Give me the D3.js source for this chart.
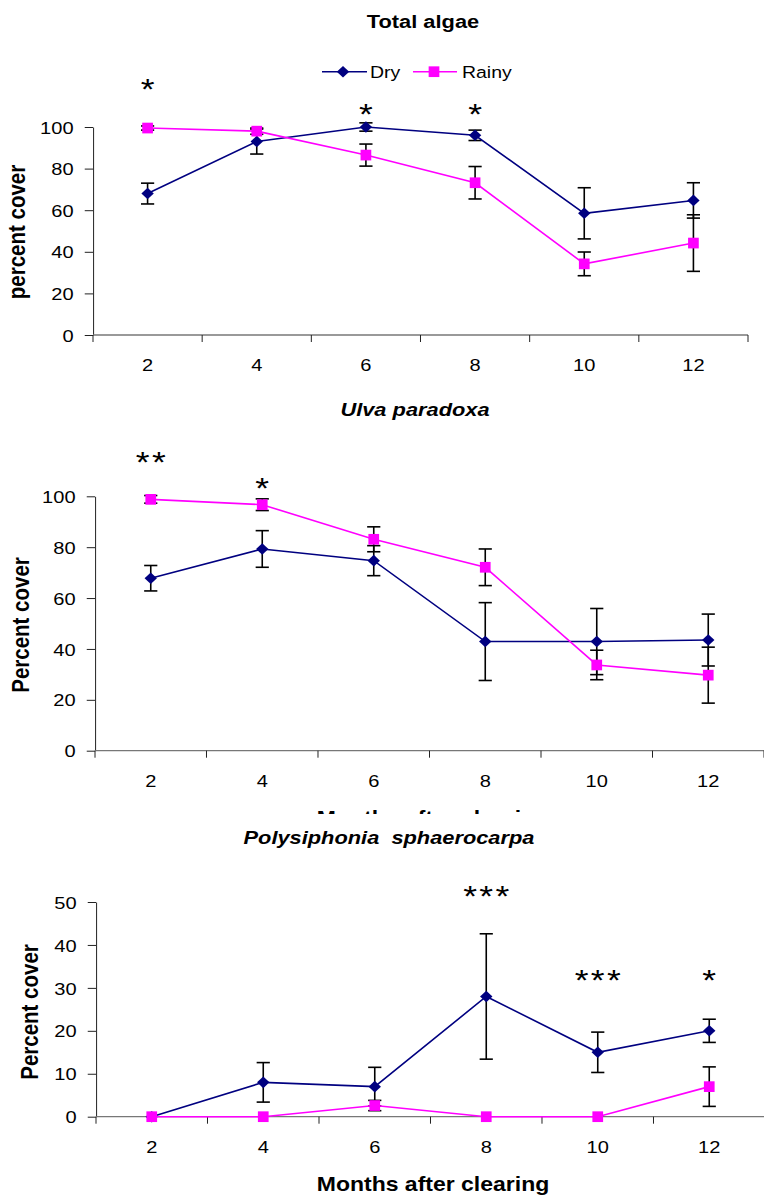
<!DOCTYPE html>
<html>
<head>
<meta charset="utf-8">
<script src="https://cdn.jsdelivr.net/npm/d3@7"></script>
<style>
  body { margin: 0; background: #fff; }
  svg { display: block; }
  text { font-family: "Liberation Sans", Arial, sans-serif; fill: #000; }
</style>
</head>
<body>
<svg id="chart"></svg>
<script>
const months = [2, 4, 6, 8, 10, 12];
const seriesNames = ["Dry", "Rainy"];

// Total algae
const totalDry = [68, 93, 100, 96, 58.5, 64.7];
const totalDryErr = [5, 6, 2, 2.5, 12.3, 8.5];
const totalRainy = [99.5, 98, 86.5, 73.2, 34.2, 44.2];
const totalRainyErr = [1, 1.5, 5.3, 7.8, 5.7, 13.6];
const totalSig = [
  { month: 2, label: "*", at: 121.5 },
  { month: 6, label: "*", at: 109.5 },
  { month: 8, label: "*", at: 109.5 }
];

// Ulva paradoxa
const ulvaDry = [67.8, 79.3, 74.7, 42.9, 42.9, 43.5];
const ulvaDryErr = [5, 7.2, 5.9, 15.3, 13, 10.2];
const ulvaRainy = [98.8, 96.7, 83.1, 72.1, 33.7, 29.7];
const ulvaRainyErr = [1.5, 2.3, 4.9, 7.2, 5.8, 11];
const ulvaSig = [
  { month: 2, label: "**", at: 116.2 },
  { month: 4, label: "*", at: 106.2 }
];

// Polysiphonia sphaerocarpa
const polyDry = [0, 8, 7, 28, 15, 20];
const polyDryErr = [0, 4.6, 4.5, 14.6, 4.7, 2.7];
const polyRainy = [0, 0, 2.6, 0, 0, 7];
const polyRainyErr = [0, 0, 1.2, 0, 0, 4.6];
const polySig = [
  { month: 8, label: "***", at: 53 },
  { month: 10, label: "***", at: 33.4 },
  { month: 12, label: "*", at: 33.4 }
];

const ticks100 = [0, 20, 40, 60, 80, 100];
const ticks50 = [0, 10, 20, 30, 40, 50];

const colors = { Dry: "#000080", Rainy: "#ff00ff" };

// the source picture is stretched sideways, so draw in a narrower viewBox
const S = 1.18;
const W = 764;
const H = 1198;

const svg = d3.select("#chart")
  .attr("width", W)
  .attr("height", H)
  .attr("viewBox", `0 0 ${W / S} ${H}`)
  .attr("preserveAspectRatio", "none");

function diamondPath(px, py) {
  const hw = 6.2 / S;
  const hh = 5.8;
  return `M${px},${py - hh}L${px + hw},${py}L${px},${py + hh}L${px - hw},${py}Z`;
}

function drawSquare(g, px, py, color) {
  const side = 10.7;
  g.append("rect")
    .attr("x", px - side / S / 2)
    .attr("y", py - side / 2)
    .attr("width", side / S)
    .attr("height", side)
    .attr("fill", color);
}

function drawPanel(p) {
  const g = svg.append("g");
  const x = d3.scaleBand().domain(months).range([p.left / S, p.right / S]);
  const y = d3.scaleLinear().domain([0, p.yMax]).range([p.zeroY, p.topY]);
  const cx = (m) => x(m) + x.bandwidth() / 2;

  // title
  g.append("text")
    .attr("x", p.titleX / S)
    .attr("y", p.titleY)
    .attr("text-anchor", "middle")
    .attr("font-size", 18.5)
    .attr("font-weight", "bold")
    .attr("font-style", p.italic ? "italic" : "normal")
    .style("white-space", "pre")
    .text(p.title);

  // y axis
  const yAxis = g.append("g")
    .attr("transform", `translate(${p.left / S},0)`)
    .call(d3.axisLeft(y).tickValues(p.yTicks).tickSize(7).tickSizeOuter(0).tickPadding(9.5).tickFormat(d3.format("d")));
  yAxis.attr("font-size", null).attr("font-family", null);
  yAxis.selectAll("text").attr("font-size", 17).attr("dy", "0.36em");
  yAxis.selectAll("line, path").attr("stroke", "#222").attr("stroke-width", 1).attr("vector-effect", "non-scaling-stroke");

  // x axis: boundary ticks, labels centred in each band
  const xg = g.append("g");
  xg.append("line")
    .attr("x1", p.left / S)
    .attr("x2", p.right / S)
    .attr("y1", p.zeroY)
    .attr("y2", p.zeroY)
    .attr("stroke", "#777")
    .attr("stroke-width", 1.3)
    .attr("vector-effect", "non-scaling-stroke");
  const bounds = months.map((m) => x(m)).concat([p.right / S]);
  xg.selectAll("line.tick")
    .data(bounds)
    .join("line")
    .attr("class", "tick")
    .attr("x1", (d) => d)
    .attr("x2", (d) => d)
    .attr("y1", p.zeroY)
    .attr("y2", p.zeroY + 7)
    .attr("stroke", "#222")
    .attr("stroke-width", 1)
    .attr("vector-effect", "non-scaling-stroke");
  xg.selectAll("text")
    .data(months)
    .join("text")
    .attr("x", (m) => cx(m))
    .attr("y", p.zeroY + 36)
    .attr("text-anchor", "middle")
    .attr("font-size", 17)
    .text((m) => m);

  // y label
  g.append("text")
    .attr("transform", `translate(${p.yLabelX / S},${p.yLabelY}) rotate(-90)`)
    .attr("text-anchor", "middle")
    .attr("font-size", 20.5)
    .attr("font-weight", "bold")
    .text(p.yLabel);

  // x label (the middle panel's label is half hidden under the next panel)
  if (p.xLabelY) {
    const xl = g.append("text")
      .attr("x", p.xLabelX / S)
      .attr("y", p.xLabelY)
      .attr("text-anchor", "middle")
      .attr("font-size", 19.5)
      .attr("font-weight", "bold")
      .text("Months after clearing");
    if (p.clipBottom) {
      const id = "clip-" + p.key;
      svg.append("clipPath").attr("id", id)
        .append("rect")
        .attr("x", 0).attr("y", p.clipTop)
        .attr("width", W / S).attr("height", p.clipBottom - p.clipTop);
      xl.attr("clip-path", `url(#${id})`);
    }
  }

  const series = [
    { name: "Dry", values: p.dry, err: p.dryErr },
    { name: "Rainy", values: p.rainy, err: p.rainyErr }
  ];

  // error bars
  const capHalf = 6.6 / S;
  series.forEach((s) => {
    s.values.forEach((v, i) => {
      const e = s.err[i];
      if (!e) return;
      const px = cx(months[i]);
      const lo = y(Math.max(0, v - e));
      const hi = y(v + e);
      const eb = g.append("g")
        .attr("stroke", "#000")
        .attr("stroke-width", 1.6);
      eb.append("line").attr("x1", px).attr("x2", px).attr("y1", lo).attr("y2", hi);
      eb.append("line").attr("x1", px - capHalf).attr("x2", px + capHalf).attr("y1", hi).attr("y2", hi);
      eb.append("line").attr("x1", px - capHalf).attr("x2", px + capHalf).attr("y1", lo).attr("y2", lo);
      eb.selectAll("line").attr("vector-effect", "non-scaling-stroke");
    });
  });

  // lines and markers
  const line = d3.line().x((d, i) => cx(months[i])).y((d) => y(d));
  series.forEach((s) => {
    g.append("path")
      .datum(s.values)
      .attr("d", line)
      .attr("fill", "none")
      .attr("stroke", colors[s.name])
      .attr("stroke-width", 1.6)
      .attr("vector-effect", "non-scaling-stroke");
    s.values.forEach((v, i) => {
      const px = cx(months[i]);
      if (s.name === "Dry") {
        g.append("path").attr("d", diamondPath(px, y(v))).attr("fill", colors.Dry);
      } else {
        drawSquare(g, px, y(v), colors.Rainy);
      }
    });
  });

  // significance asterisks
  const gap = 2;
  g.selectAll("text.sig")
    .data(p.sig)
    .join("text")
    .attr("class", "sig")
    .attr("x", (d) => cx(d.month) + (d.label.length > 1 ? gap / 2 : 0))
    .attr("y", (d) => y(d.at))
    .attr("dy", "0.57em")
    .attr("text-anchor", "middle")
    .attr("font-size", 30)
    .attr("letter-spacing", (d) => (d.label.length > 1 ? gap : 0))
    .text((d) => d.label);

  // legend
  if (p.legend) {
    const lg = g.append("g");
    const ly = 71.7;
    const items = [
      { name: seriesNames[0], x1: 322, x2: 367, mx: 343, tx: 370 },
      { name: seriesNames[1], x1: 413, x2: 457, mx: 434, tx: 462 }
    ];
    items.forEach((it) => {
      lg.append("line")
        .attr("x1", it.x1 / S).attr("x2", it.x2 / S)
        .attr("y1", ly).attr("y2", ly)
        .attr("stroke", colors[it.name])
        .attr("stroke-width", 1.6)
        .attr("vector-effect", "non-scaling-stroke");
      if (it.name === "Dry") {
        lg.append("path").attr("d", diamondPath(it.mx / S, ly)).attr("fill", colors.Dry);
      } else {
        drawSquare(lg, it.mx / S, ly, colors.Rainy);
      }
      lg.append("text")
        .attr("x", it.tx / S)
        .attr("y", ly + 6)
        .attr("font-size", 16.5)
        .text(it.name);
    });
  }
}

drawPanel({
  key: "total",
  title: "Total algae", italic: false, titleX: 423, titleY: 28.5,
  left: 93, right: 748, zeroY: 335, topY: 127, yMax: 100, yTicks: ticks100,
  yLabel: "percent cover", yLabelX: 25, yLabelY: 232,
  xLabelY: null,
  dry: totalDry, dryErr: totalDryErr, rainy: totalRainy, rainyErr: totalRainyErr,
  sig: totalSig, legend: true
});

drawPanel({
  key: "ulva",
  title: "Ulva paradoxa", italic: true, titleX: 415, titleY: 416.5,
  left: 95, right: 764, zeroY: 750.7, topY: 496.3, yMax: 100, yTicks: ticks100,
  yLabel: "Percent cover", yLabelX: 29, yLabelY: 625,
  xLabelX: 433, xLabelY: 825, clipTop: 790, clipBottom: 814,
  dry: ulvaDry, dryErr: ulvaDryErr, rainy: ulvaRainy, rainyErr: ulvaRainyErr,
  sig: ulvaSig, legend: false
});

drawPanel({
  key: "poly",
  title: "Polysiphonia  sphaerocarpa", italic: true, titleX: 389, titleY: 844,
  left: 96, right: 765, zeroY: 1116.7, topY: 902, yMax: 50, yTicks: ticks50,
  yLabel: "Percent cover", yLabelX: 38, yLabelY: 1012,
  xLabelX: 433, xLabelY: 1191,
  dry: polyDry, dryErr: polyDryErr, rainy: polyRainy, rainyErr: polyRainyErr,
  sig: polySig, legend: false
});
</script>
</body>
</html>
